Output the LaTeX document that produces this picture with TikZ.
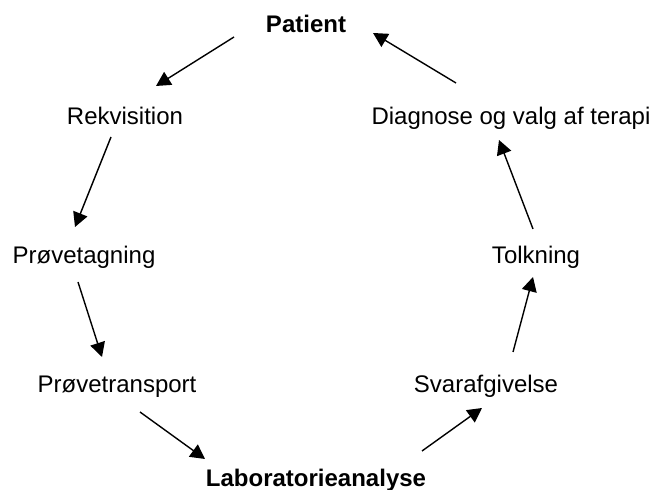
\documentclass[tikz,border=0pt]{standalone}
\usepackage{fontspec}
\setmainfont{Liberation Sans}
\usetikzlibrary{arrows.meta,positioning,calc}
\tikzstyle{stage} = [anchor=base, inner sep=0pt, font=\fontsize{12}{14}\selectfont]
\tikzstyle{keystage} = [stage, font=\fontsize{12}{14}\selectfont\bfseries]
\tikzstyle{arrow} = [line width=0.7pt, -{Triangle[length=7.2pt,width=7.5pt]}]

\begin{document}
\begin{tikzpicture}[x=0.5pt, y=-0.5pt]
    \useasboundingbox (0,0) rectangle (652,490);
    % Nodes
    \node (patient) [keystage] at (306,33) {Patient};
    \node (rekv) [stage] at (125,125) {Rekvisition};
    \node (diag) [stage] at (511,125) {Diagnose og valg af terapi};
    \node (tagning) [stage] at (84,264) {Prøvetagning};
    \node (tolk) [stage] at (536,264) {Tolkning};
    \node (transport) [stage] at (117,393) {Prøvetransport};
    \node (svar) [stage] at (486,393) {Svarafgivelse};
    \node (lab) [keystage] at (316,487) {Laboratorieanalyse};

    % Arrows
    \draw [arrow] ([shift={(-72,4)}]patient.base) -- ([shift={(31,-39)}]rekv.base);
    \draw [arrow] ([shift={(-14,12)}]rekv.base) -- ([shift={(-9,-37)}]tagning.base);
    \draw [arrow] ([shift={(-6,18)}]tagning.base) -- ([shift={(-15,-36)}]transport.base);
    \draw [arrow] ([shift={(23,19)}]transport.base) -- ([shift={(-111,-28)}]lab.base);
    \draw [arrow] ([shift={(106,-36)}]lab.base) -- ([shift={(-4,15)}]svar.base);
    \draw [arrow] ([shift={(27,-41)}]svar.base) -- ([shift={(-3,13)}]tolk.base);
    \draw [arrow] ([shift={(-3,-35)}]tolk.base) -- ([shift={(-12,15)}]diag.base);
    \draw [arrow] ([shift={(-55,-42)}]diag.base) -- ([shift={(67,0)}]patient.base);
\end{tikzpicture}
\end{document}
